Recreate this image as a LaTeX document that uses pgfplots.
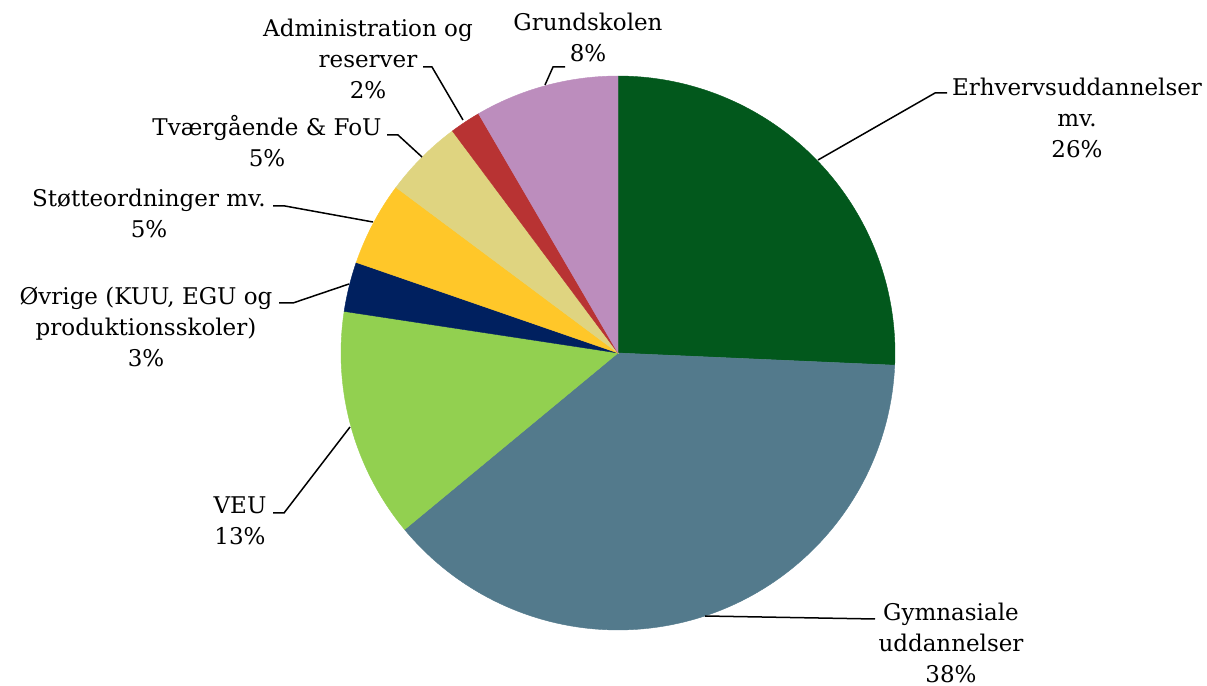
\documentclass[border=0pt]{standalone}
\usepackage{fontspec}
\setmainfont{DejaVu Serif}
\usepackage{pgfplots}
\pgfplotsset{compat=1.18}
\definecolor{cErh}{RGB}{2,88,28}
\definecolor{cGym}{RGB}{83,122,140}
\definecolor{cVEU}{RGB}{146,208,80}
\definecolor{cOvr}{RGB}{0,32,95}
\definecolor{cSto}{RGB}{255,199,41}
\definecolor{cTvr}{RGB}{223,212,128}
\definecolor{cAdm}{RGB}{184,51,51}
\definecolor{cGru}{RGB}{188,141,189}
% shares in percent, clockwise from 12 o'clock
\def\vErh{25.7}
\def\vGym{38.3}
\def\vVEU{13.4}
\def\vOvr{2.9}
\def\vSto{4.9}
\def\vTvr{4.6}
\def\vAdm{1.8}
\def\vGru{8.4}
\pgfmathsetmacro\aA{90}
\pgfmathsetmacro\aB{\aA-3.6*\vErh}
\pgfmathsetmacro\aC{\aB-3.6*\vGym}
\pgfmathsetmacro\aD{\aC-3.6*\vVEU}
\pgfmathsetmacro\aE{\aD-3.6*\vOvr}
\pgfmathsetmacro\aF{\aE-3.6*\vSto}
\pgfmathsetmacro\aG{\aF-3.6*\vTvr}
\pgfmathsetmacro\aH{\aG-3.6*\vAdm}
\pgfmathsetmacro\aI{\aH-3.6*\vGru}
\def\cx{618}
\def\cy{333}
\def\rr{277}
\begin{document}
\begin{tikzpicture}
\begin{axis}[width=603.5pt, height=343pt, scale only axis,
  xmin=0, xmax=1207, ymin=0, ymax=686, hide axis, clip=false]
\addplot[fill=cErh, draw=cErh, line width=0.2pt, domain=\aB:\aA, samples=80, variable=\t] ({\cx+\rr*cos(\t)},{\cy+\rr*sin(\t)}) -- (axis cs:\cx,\cy) -- cycle;
\addplot[fill=cGym, draw=cGym, line width=0.2pt, domain=\aC:\aB, samples=100, variable=\t] ({\cx+\rr*cos(\t)},{\cy+\rr*sin(\t)}) -- (axis cs:\cx,\cy) -- cycle;
\addplot[fill=cVEU, draw=cVEU, line width=0.2pt, domain=\aD:\aC, samples=50, variable=\t] ({\cx+\rr*cos(\t)},{\cy+\rr*sin(\t)}) -- (axis cs:\cx,\cy) -- cycle;
\addplot[fill=cOvr, draw=cOvr, line width=0.2pt, domain=\aE:\aD, samples=20, variable=\t] ({\cx+\rr*cos(\t)},{\cy+\rr*sin(\t)}) -- (axis cs:\cx,\cy) -- cycle;
\addplot[fill=cSto, draw=cSto, line width=0.2pt, domain=\aF:\aE, samples=20, variable=\t] ({\cx+\rr*cos(\t)},{\cy+\rr*sin(\t)}) -- (axis cs:\cx,\cy) -- cycle;
\addplot[fill=cTvr, draw=cTvr, line width=0.2pt, domain=\aG:\aF, samples=20, variable=\t] ({\cx+\rr*cos(\t)},{\cy+\rr*sin(\t)}) -- (axis cs:\cx,\cy) -- cycle;
\addplot[fill=cAdm, draw=cAdm, line width=0.2pt, domain=\aH:\aG, samples=10, variable=\t] ({\cx+\rr*cos(\t)},{\cy+\rr*sin(\t)}) -- (axis cs:\cx,\cy) -- cycle;
\addplot[fill=cGru, draw=cGru, line width=0.2pt, domain=\aI:\aH, samples=40, variable=\t] ({\cx+\rr*cos(\t)},{\cy+\rr*sin(\t)}) -- (axis cs:\cx,\cy) -- cycle;
% leader lines
\addplot[black, line width=0.75pt] coordinates {(818,526) (935,593) (947,593)};
\addplot[black, line width=0.75pt] coordinates {(705,70) (875,67)};
\addplot[black, line width=0.75pt] coordinates {(350,259) (284,173) (273,173)};
\addplot[black, line width=0.75pt] coordinates {(349,402) (293,383) (279,383)};
\addplot[black, line width=0.75pt] coordinates {(373,464) (285,480) (273,480)};
\addplot[black, line width=0.75pt] coordinates {(422,529) (398,551) (387,551)};
\addplot[black, line width=0.75pt] coordinates {(463,566) (432,619) (423,619)};
\addplot[black, line width=0.75pt] coordinates {(545,601) (553,619) (565,619)};
% labels
\begin{scope}[every node/.style={align=center, inner sep=0pt, font=\fontsize{11.5}{15.5}\selectfont}]
\node at (axis cs:1077,568) {Erhvervsuddannelser\\mv.\\26\%};
\node at (axis cs:951,43) {Gymnasiale\\uddannelser\\38\%};
\node at (axis cs:240,165) {VEU\\13\%};
\node at (axis cs:146,359) {Øvrige (KUU, EGU og\\produktionsskoler)\\3\%};
\node at (axis cs:149,473) {Støtteordninger mv.\\5\%};
\node at (axis cs:267,545) {Tværgående \& FoU\\5\%};
\node at (axis cs:368,627) {Administration og\\reserver\\2\%};
\node at (axis cs:588,649) {Grundskolen\\8\%};
\end{scope}
\end{axis}
\path (current axis.south west) rectangle (current axis.north east);
\end{tikzpicture}
\end{document}
